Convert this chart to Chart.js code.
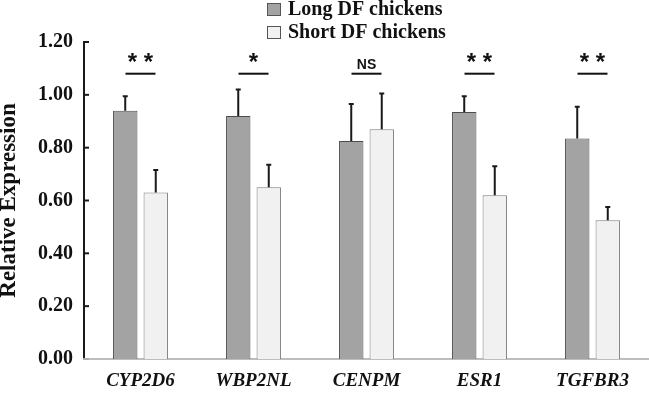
<!DOCTYPE html>
<html>
<head>
<meta charset="utf-8">
<script src="https://cdn.jsdelivr.net/npm/chart.js@4"></script>
<style>
  html, body { margin: 0; padding: 0; background: #fff; }
  #wrap { width: 649px; height: 393px; }
</style>
</head>
<body>
<div id="wrap"><canvas id="chart" width="649" height="393"></canvas></div>
<script>
const genes = ['CYP2D6', 'WBP2NL', 'CENPM', 'ESR1', 'TGFBR3'];
const longDF = [0.94, 0.92, 0.825, 0.935, 0.835];
const longErr = [0.055, 0.10, 0.14, 0.06, 0.12];
const shortDF = [0.63, 0.65, 0.87, 0.62, 0.525];
const shortErr = [0.085, 0.085, 0.135, 0.11, 0.05];
const signif = ['* *', '*', 'NS', '* *', '* *'];
const yTicks = [0, 0.2, 0.4, 0.6, 0.8, 1.0, 1.2];

const serif = "'Liberation Serif', 'Times New Roman', serif";

// error bars (upward only, small cap)
const errorBars = {
  id: 'errorBars',
  afterDatasetsDraw(chart) {
    const ctx = chart.ctx;
    const y = chart.scales.y;
    const errs = [longErr, shortErr];
    chart.data.datasets.forEach((ds, di) => {
      const meta = chart.getDatasetMeta(di);
      meta.data.forEach((bar, i) => {
        const top = y.getPixelForValue(ds.data[i] + errs[di][i]);
        ctx.save();
        ctx.strokeStyle = '#1a1a1a';
        ctx.lineWidth = 2;
        ctx.beginPath();
        ctx.moveTo(bar.x, bar.y);
        ctx.lineTo(bar.x, top);
        ctx.moveTo(bar.x - 2.5, top);
        ctx.lineTo(bar.x + 2.5, top);
        ctx.stroke();
        ctx.restore();
      });
    });
  }
};

// significance marks above each gene
const marks = {
  id: 'marks',
  afterDatasetsDraw(chart) {
    const ctx = chart.ctx;
    const x = chart.scales.x;
    const y = chart.scales.y;
    const ly = y.getPixelForValue(1.08);
    genes.forEach((g, i) => {
      const cx = x.getPixelForValue(i);
      ctx.save();
      ctx.strokeStyle = '#111';
      ctx.lineWidth = 2;
      ctx.beginPath();
      ctx.moveTo(cx - 15, ly);
      ctx.lineTo(cx + 15, ly);
      ctx.stroke();
      ctx.fillStyle = '#111';
      ctx.textAlign = 'center';
      ctx.textBaseline = 'alphabetic';
      if (signif[i] === 'NS') {
        ctx.font = "bold 14px 'Liberation Sans', Arial, sans-serif";
        ctx.fillText(signif[i], cx, ly - 5);
      } else {
        ctx.font = "bold 24px 'Liberation Sans', Arial, sans-serif";
        ctx.fillText(signif[i], cx, ly - 4);
      }
      ctx.restore();
    });
  }
};

// inward tick marks on the y axis
const innerTicks = {
  id: 'innerTicks',
  afterDraw(chart) {
    const ctx = chart.ctx;
    const y = chart.scales.y;
    const left = chart.chartArea.left;
    ctx.save();
    yTicks.forEach(v => {
      const py = y.getPixelForValue(v);
      ctx.strokeStyle = v === 0 ? '#aaa' : '#1a1a1a';
      ctx.lineWidth = 2;
      ctx.beginPath();
      ctx.moveTo(left - 1, py);
      ctx.lineTo(left + 5, py);
      ctx.stroke();
    });
    ctx.restore();
  }
};

// stacked legend at top
const stackedLegend = {
  id: 'stackedLegend',
  afterDraw(chart) {
    const ctx = chart.ctx;
    ctx.save();
    chart.data.datasets.forEach((ds, i) => {
      const by = 3 + i * 23;
      ctx.fillStyle = ds.backgroundColor;
      ctx.fillRect(267.5, by + 0.5, 13, 12);
      ctx.strokeStyle = '#555';
      ctx.lineWidth = 1;
      ctx.strokeRect(267.5, by + 0.5, 13, 12);
      ctx.fillStyle = '#111';
      ctx.font = 'bold 20px ' + serif;
      ctx.textAlign = 'left';
      ctx.textBaseline = 'middle';
      ctx.fillText(ds.label, 288, by + 7);
    });
    ctx.restore();
  }
};

new Chart(document.getElementById('chart'), {
  type: 'bar',
  data: {
    labels: genes,
    datasets: [
      {
        label: 'Long DF chickens',
        data: longDF,
        backgroundColor: '#a3a3a3',
        borderColor: '#4d4d4d',
        borderWidth: 1
      },
      {
        label: 'Short DF chickens',
        data: shortDF,
        backgroundColor: '#f1f1f1',
        borderColor: '#7d7d7d',
        borderWidth: 1
      }
    ]
  },
  options: {
    responsive: false,
    animation: false,
    categoryPercentage: 0.54,
    barPercentage: 0.8,
    layout: { padding: { top: 42, right: 0, left: 0, bottom: 0 } },
    plugins: {
      legend: { display: false },
      tooltip: { enabled: false }
    },
    scales: {
      x: {
        grid: { display: false, drawTicks: false },
        border: { color: '#bdbdbd', width: 2 },
        ticks: {
          color: '#111',
          padding: 11,
          font: { family: serif, size: 19, weight: 'bold', style: 'italic' }
        },
        afterFit: s => { s.height = 34; }
      },
      y: {
        min: 0,
        max: 1.2,
        afterBuildTicks: s => { s.ticks = yTicks.map(v => ({ value: v })); },
        grid: { display: false, drawTicks: false },
        border: { color: '#1a1a1a', width: 2 },
        ticks: {
          color: '#111',
          padding: 11,
          font: { family: serif, size: 20, weight: 'bold' },
          callback: v => Number(v).toFixed(2)
        },
        title: {
          display: true,
          text: 'Relative Expression',
          color: '#111',
          padding: { top: 0, bottom: 0 },
          font: { family: serif, size: 23, weight: 'bold', lineHeight: 0.75 }
        },
        afterFit: s => { s.width = 84; }
      }
    }
  },
  plugins: [errorBars, marks, innerTicks, stackedLegend]
});
</script>
</body>
</html>
